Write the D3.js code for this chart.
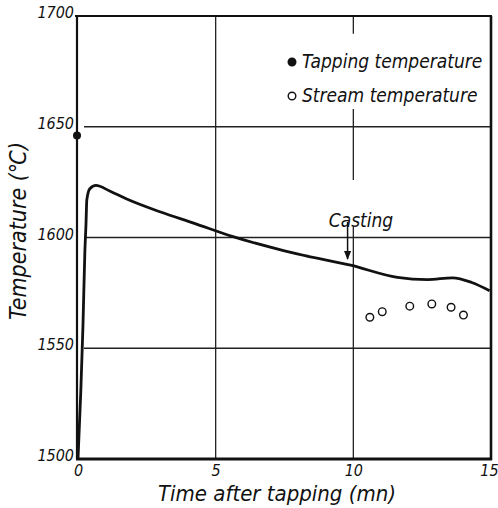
<!DOCTYPE html>
<html>
<head>
<meta charset="utf-8">
<script src="https://cdn.jsdelivr.net/npm/d3@7"></script>
<style>
  body { margin: 0; background: #fff; }
  svg text { font-family: "Liberation Sans Narrow", "DejaVu Sans Condensed", "Liberation Sans", sans-serif; font-style: italic; fill: #111; }
</style>
</head>
<body>
<div id="chart"></div>
<script>
// temperature of the melt after tapping
var xTicks = [0, 5, 10, 15];
var yTicks = [1500, 1550, 1600, 1650, 1700];

// melt temperature curve (min, degC)
var curveTime = [0, 0.1, 0.18, 0.25, 0.29, 0.32, 0.43, 0.65, 1.15, 1.75, 3, 4.2, 5.6, 7.5, 8, 9.9, 11.6, 12.7, 13.6, 14.3, 14.95];
var curveTemp = [1500, 1530, 1560, 1594, 1606, 1617, 1622, 1623.5, 1621, 1617.5, 1611.5, 1606.5, 1600.5, 1594, 1592.5, 1587.5, 1582, 1581, 1581.8, 1579.7, 1576];

// tapping temperature
var tapTime = [0];
var tapTemp = [1646];

// stream temperature
var streamTime = [10.6, 11.05, 12.05, 12.85, 13.55, 14.0];
var streamTemp = [1564, 1566.5, 1569, 1570, 1568.5, 1565];

var castTime = 9.9;

var W = 498, H = 508;
var svg = d3.select("#chart").append("svg")
    .attr("width", W)
    .attr("height", H);

var x = d3.scaleLinear().domain([0, 15]).range([78, 491]);
var y = d3.scaleLinear().domain([1500, 1700]).range([459, 16]);

// grid lines
svg.selectAll(".hgrid")
    .data(yTicks.slice(1, 4))
    .enter().append("line")
    .attr("x1", x(0) + 6).attr("x2", x(15))
    .attr("y1", d => y(d)).attr("y2", d => y(d))
    .attr("stroke", "#222").attr("stroke-width", 1.3);

svg.append("line")
    .attr("x1", x(5)).attr("x2", x(5))
    .attr("y1", y(1700)).attr("y2", y(1500))
    .attr("stroke", "#222").attr("stroke-width", 1.3);

// x = 10 line, broken by the legend and the casting label
[[1700, 1692], [1658, 1626], [1605, 1500]].forEach(function(seg) {
    svg.append("line")
        .attr("x1", x(10)).attr("x2", x(10))
        .attr("y1", y(seg[0])).attr("y2", y(seg[1]))
        .attr("stroke", "#222").attr("stroke-width", 1.3);
});

// frame
svg.append("line").attr("x1", x(0) - 3).attr("x2", x(15) + 1).attr("y1", y(1700)).attr("y2", y(1700))
    .attr("stroke", "#111").attr("stroke-width", 2.2);
svg.append("line").attr("x1", x(0) - 1).attr("x2", x(0) - 1).attr("y1", y(1700)).attr("y2", y(1500))
    .attr("stroke", "#111").attr("stroke-width", 2.2);
svg.append("line").attr("x1", x(15)).attr("x2", x(15)).attr("y1", y(1700)).attr("y2", y(1500) + 1)
    .attr("stroke", "#111").attr("stroke-width", 2.6);
svg.append("line").attr("x1", x(0) - 2).attr("x2", x(15) + 1).attr("y1", y(1500)).attr("y2", y(1500))
    .attr("stroke", "#111").attr("stroke-width", 2.8);

// axes labels via d3 axes, lines hidden
var xAxis = svg.append("g")
    .attr("transform", "translate(0," + (y(1500) + 3) + ")")
    .call(d3.axisBottom(x).tickValues(xTicks).tickSize(0).tickPadding(2));
xAxis.select(".domain").remove();
xAxis.selectAll("text").attr("font-size", "16px").attr("dy", "0.72em")
    .attr("font-family", null);
xAxis.selectAll(".tick").filter(d => d === 15).select("text").attr("dx", "-2");

var yAxis = svg.append("g")
    .attr("transform", "translate(" + (x(0) - 3) + ",0)")
    .call(d3.axisLeft(y).tickValues(yTicks).tickSize(0).tickPadding(1).tickFormat(d3.format("d")));
yAxis.select(".domain").remove();
yAxis.selectAll("text").attr("font-size", "16px").attr("dy", "0.1em")
    .attr("font-family", null);

// curve
var curve = curveTime.map((t, i) => [t, curveTemp[i]]);
var line = d3.line()
    .x(d => x(d[0]))
    .y(d => y(d[1]))
    .curve(d3.curveMonotoneX);
svg.append("path")
    .datum(curve)
    .attr("d", line)
    .attr("fill", "none")
    .attr("stroke", "#111")
    .attr("stroke-width", 2.8)
    .attr("stroke-linejoin", "round");

// tapping temperature point
svg.selectAll(".tap")
    .data(tapTime.map((t, i) => [t, tapTemp[i]]))
    .enter().append("circle")
    .attr("cx", d => x(d[0]) - 1).attr("cy", d => y(d[1]))
    .attr("r", 4).attr("fill", "#111");

// stream temperature points
svg.selectAll(".stream")
    .data(streamTime.map((t, i) => [t, streamTemp[i]]))
    .enter().append("circle")
    .attr("cx", d => x(d[0])).attr("cy", d => y(d[1]))
    .attr("r", 3.8).attr("fill", "#fff")
    .attr("stroke", "#111").attr("stroke-width", 1.4);

// casting label and arrow
svg.append("defs").append("marker")
    .attr("id", "arr").attr("viewBox", "0 0 10 10")
    .attr("refX", 9).attr("refY", 5)
    .attr("markerWidth", 6).attr("markerHeight", 7)
    .attr("orient", "auto")
    .append("path").attr("d", "M0,1 L10,5 L0,9 Z").attr("fill", "#111");
svg.append("line")
    .attr("x1", x(castTime) - 3).attr("x2", x(castTime) - 3)
    .attr("y1", 222).attr("y2", 259)
    .attr("stroke", "#111").attr("stroke-width", 1.5)
    .attr("marker-end", "url(#arr)");
svg.append("text")
    .attr("x", 361).attr("y", 227)
    .attr("text-anchor", "middle")
    .attr("font-size", "19px")
    .text("Casting");

// legend
var legend = [["Tapping temperature", true], ["Stream temperature", false]];
var lg = svg.selectAll(".leg")
    .data(legend)
    .enter().append("g")
    .attr("transform", (d, i) => "translate(0," + (62 + i * 34) + ")");
lg.append("circle")
    .attr("cx", 292).attr("cy", 0).attr("r", 3.8)
    .attr("fill", d => d[1] ? "#111" : "#fff")
    .attr("stroke", "#111").attr("stroke-width", 1.4);
lg.append("text")
    .attr("x", 302).attr("y", 6)
    .attr("font-size", "19px")
    .text(d => d[0]);

// axis titles
svg.append("text")
    .attr("x", 277).attr("y", 501)
    .attr("text-anchor", "middle")
    .attr("font-size", "22px")
    .text("Time after tapping (mn)");

svg.append("text")
    .attr("transform", "translate(26,231) rotate(-90)")
    .attr("text-anchor", "middle")
    .attr("font-size", "23px")
    .text("Temperature (\u2103)");
</script>
</body>
</html>
